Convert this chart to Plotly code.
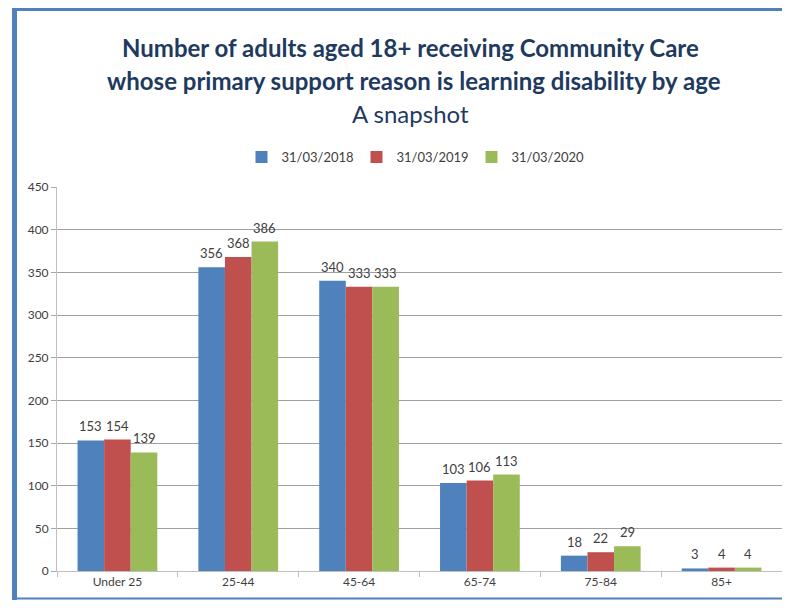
import plotly.graph_objects as go

categories = ["Under 25", "25-44", "45-64", "65-74", "75-84", "85+"]
series_names = ["31/03/2018", "31/03/2019", "31/03/2020"]
values_2018 = [153, 356, 340, 103, 18, 3]
values_2019 = [154, 368, 333, 106, 22, 4]
values_2020 = [139, 386, 333, 113, 29, 4]
y_ticks = [0, 50, 100, 150, 200, 250, 300, 350, 400, 450]

colors = ["#4F81BD", "#C0504D", "#9BBB59"]
FONT = "Lato, Open Sans, DejaVu Sans, sans-serif"

OFF = 8
W, H = 790 - 2 * OFF, 608 - 2 * OFF
PLOT_L, PLOT_R, PLOT_T, PLOT_B = 57, 788, 187, 571
ML = PLOT_L - OFF
MR = max(0, (OFF + W) - PLOT_R)
MT = PLOT_T - OFF
MB = (OFF + H) - PLOT_B
PW = W - ML - MR
PH = H - MT - MB

def px_x(p):
    return (p - OFF - ML) / PW

def px_y(p):
    return (H - MB - (p - OFF)) / PH

BARGAP = 0.34
all_values = [values_2018, values_2019, values_2020]
fig = go.Figure()
for name, vals, col in zip(series_names, all_values, colors):
    fig.add_trace(go.Bar(
        x=categories, y=vals, name=name,
        marker=dict(color=col, line=dict(width=0)),
    ))

annotations = []
slot = (1 - BARGAP) / len(all_values)
for k, vals in enumerate(all_values):
    for i, v in enumerate(vals):
        annotations.append(dict(
            x=i + (k - 1) * slot, y=v, xref="x", yref="y", text=str(v), showarrow=False,
            yanchor="bottom", yshift=4, font=dict(size=13, color="#404040", family=FONT)))

FRAME = "#4F81BD"
right_end = OFF + W
shapes = [
    # left border (filled strip, no outline)
    dict(type="rect", xref="paper", yref="paper", x0=px_x(12), x1=px_x(17), y0=px_y(8), y1=px_y(600),
         fillcolor=FRAME, line=dict(width=0), layer="above"),
    # top border
    dict(type="rect", xref="paper", yref="paper", x0=px_x(12), x1=px_x(right_end), y0=px_y(8), y1=px_y(11),
         fillcolor=FRAME, line=dict(width=0), layer="above"),
    # bottom border
    dict(type="rect", xref="paper", yref="paper", x0=px_x(12), x1=px_x(right_end), y0=px_y(597.5), y1=px_y(599.5),
         fillcolor=FRAME, line=dict(width=0), layer="above"),
]

title_color = "#1F3A5F"
annotations += [
    dict(text="<b>Number of adults aged 18+ receiving Community Care</b>", xref="paper", yref="paper",
         x=px_x(410), y=px_y(47), showarrow=False, font=dict(size=24, color=title_color, family=FONT),
         xanchor="center", yanchor="middle"),
    dict(text="<b>whose primary support reason is learning disability by age</b>", xref="paper", yref="paper",
         x=px_x(414), y=px_y(80), showarrow=False, font=dict(size=24, color=title_color, family=FONT),
         xanchor="center", yanchor="middle"),
    dict(text="A snapshot", xref="paper", yref="paper",
         x=px_x(410), y=px_y(114), showarrow=False, font=dict(size=24, color=title_color, family=FONT),
         xanchor="center", yanchor="middle"),
]

fig.update_layout(
    width=W, height=H,
    margin=dict(l=ML, r=MR, t=MT, b=MB, autoexpand=False),
    paper_bgcolor="white", plot_bgcolor="white",
    barmode="group", bargap=BARGAP, bargroupgap=0,
    font=dict(family=FONT, color="#404040"),
    showlegend=True,
    legend=dict(orientation="h", x=px_x(414), xanchor="center", y=px_y(157), yanchor="middle",
                font=dict(size=13, color="#404040", family=FONT),
                entrywidth=70, entrywidthmode="pixels", itemwidth=30,
                traceorder="normal"),
    shapes=shapes,
    annotations=annotations,
    xaxis=dict(showline=True, linecolor="#BFBFBF", linewidth=1, tickson="boundaries",
               ticks="outside", ticklen=5, tickcolor="#BFBFBF",
               tickfont=dict(size=12, color="#404040", family=FONT), showgrid=False),
    yaxis=dict(range=[0, 450], tickvals=y_ticks, showline=True, linecolor="#BFBFBF", linewidth=1,
               ticks="outside", ticklen=5, tickcolor="#A6A6A6",
               showgrid=True, gridcolor="#A0A0A0", gridwidth=1, zeroline=False,
               tickfont=dict(size=12, color="#404040", family=FONT)),
)

fig.write_html("out.html")
